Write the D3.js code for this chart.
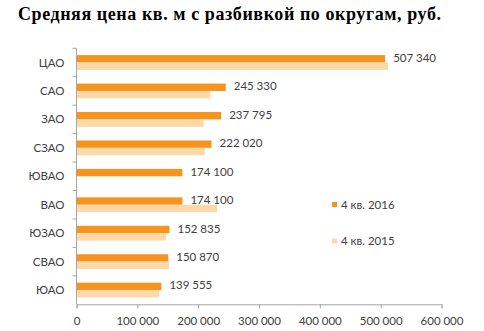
<!DOCTYPE html>
<html>
<head>
<meta charset="utf-8">
<script src="https://cdn.jsdelivr.net/npm/d3@7"></script>
<style>
  html, body { margin: 0; padding: 0; background: #fff; }
  svg { display: block; }
</style>
</head>
<body>
<svg id="chart" width="484" height="331"></svg>
<script>
// Districts, top to bottom
const districts = ["ЦАО", "САО", "ЗАО", "СЗАО", "ЮВАО", "ВАО", "ЮЗАО", "СВАО", "ЮАО"];
// Average price per sq. m, Q4 2016 (labelled)
const values2016 = [507340, 245330, 237795, 222020, 174100, 174100, 152835, 150870, 139555];
// Average price per sq. m, Q4 2015 (no value for ЮВАО)
const values2015 = [512000, 220000, 209000, 211000, null, 231000, 147000, 152500, 136000];
const seriesNames = ["4 кв. 2016", "4 кв. 2015"];
const seriesColors = ["#F7941E", "#FDD9AA"];
const xTicks = [0, 100000, 200000, 300000, 400000, 500000, 600000];

const fmt = v => d3.format(",")(v).replace(/,/g, "\u202f");
const font = "Lato, 'Open Sans', sans-serif";
const textColor = "#404040";
const axisColor = "#A6A6A6";

const svg = d3.select("#chart");

svg.append("text")
  .attr("x", 18).attr("y", 19.5)
  .attr("font-family", "'Liberation Serif', 'Times New Roman', serif")
  .attr("font-weight", "bold")
  .attr("font-size", 18)
  .attr("textLength", 423)
  .attr("lengthAdjust", "spacing")
  .attr("fill", "#000")
  .text("Средняя цена кв. м с разбивкой по округам, руб.");

const x = d3.scaleLinear().domain([0, 600000]).range([76.5, 441.5]);
const y = d3.scaleBand().domain(districts).range([48.3, 304.3]).paddingInner(0.48).paddingOuter(0.24);
const ySub = d3.scaleBand().domain([0, 1]).range([0, y.bandwidth()]);

const rows = districts.map((d, i) => ({ d, vals: [values2016[i], values2015[i]] }));

const g = svg.append("g");

// bars
const rowG = g.selectAll("g.row").data(rows).join("g")
  .attr("class", "row")
  .attr("transform", r => `translate(0,${y(r.d)})`);

rowG.selectAll("rect").data(r => r.vals.map((v, k) => ({ v, k })).filter(e => e.v != null))
  .join("rect")
  .attr("x", x(0))
  .attr("y", e => ySub(e.k))
  .attr("width", e => x(e.v) - x(0))
  .attr("height", ySub.bandwidth())
  .attr("fill", e => seriesColors[e.k]);

// value labels for 2016
rowG.append("text")
  .attr("x", r => x(r.vals[0]) + 8)
  .attr("y", ySub(0) + ySub.bandwidth() / 2 - 1)
  .attr("dy", "0.35em")
  .attr("font-family", font)
  .attr("font-size", 11.5)
  .attr("fill", textColor)
  .text(r => fmt(r.vals[0]));

// y axis
const yAxis = g.append("g").attr("transform", `translate(${x(0)},0)`);
yAxis.append("line")
  .attr("x1", 0).attr("x2", 0)
  .attr("y1", y.range()[0]).attr("y2", y.range()[1])
  .attr("stroke", axisColor);
const boundaries = d3.range(districts.length).map(i => y.range()[0] + i * y.step());
yAxis.selectAll("line.tick").data(boundaries).join("line")
  .attr("class", "tick")
  .attr("x1", -4).attr("x2", 0)
  .attr("y1", d => d).attr("y2", d => d)
  .attr("stroke", axisColor);
yAxis.selectAll("text").data(districts).join("text")
  .attr("x", -12)
  .attr("y", d => y(d) + y.bandwidth() / 2)
  .attr("dy", "0.35em")
  .attr("text-anchor", "end")
  .attr("font-family", font)
  .attr("font-size", 11.5)
  .attr("fill", textColor)
  .text(d => d);

// x axis
const xAxisG = g.append("g").attr("transform", `translate(0,${y.range()[1]})`)
  .call(d3.axisBottom(x).tickValues(xTicks).tickSize(4).tickPadding(9).tickFormat(fmt));
xAxisG.select(".domain").attr("stroke", axisColor);
xAxisG.selectAll(".tick line").attr("stroke", axisColor);
xAxisG.selectAll(".tick text")
  .attr("font-family", font)
  .attr("font-size", 11.5)
  .attr("fill", textColor);

// legend
const legend = svg.append("g").selectAll("g").data(seriesNames).join("g")
  .attr("transform", (d, i) => `translate(332,${204.5 + i * 36.5})`);
legend.append("rect")
  .attr("x", 0).attr("y", -2.5).attr("width", 5).attr("height", 5)
  .attr("fill", (d, i) => seriesColors[i]);
legend.append("text")
  .attr("x", 9).attr("y", 0).attr("dy", "0.35em")
  .attr("font-family", font)
  .attr("font-size", 11.5)
  .attr("fill", textColor)
  .text(d => d);
</script>
</body>
</html>
